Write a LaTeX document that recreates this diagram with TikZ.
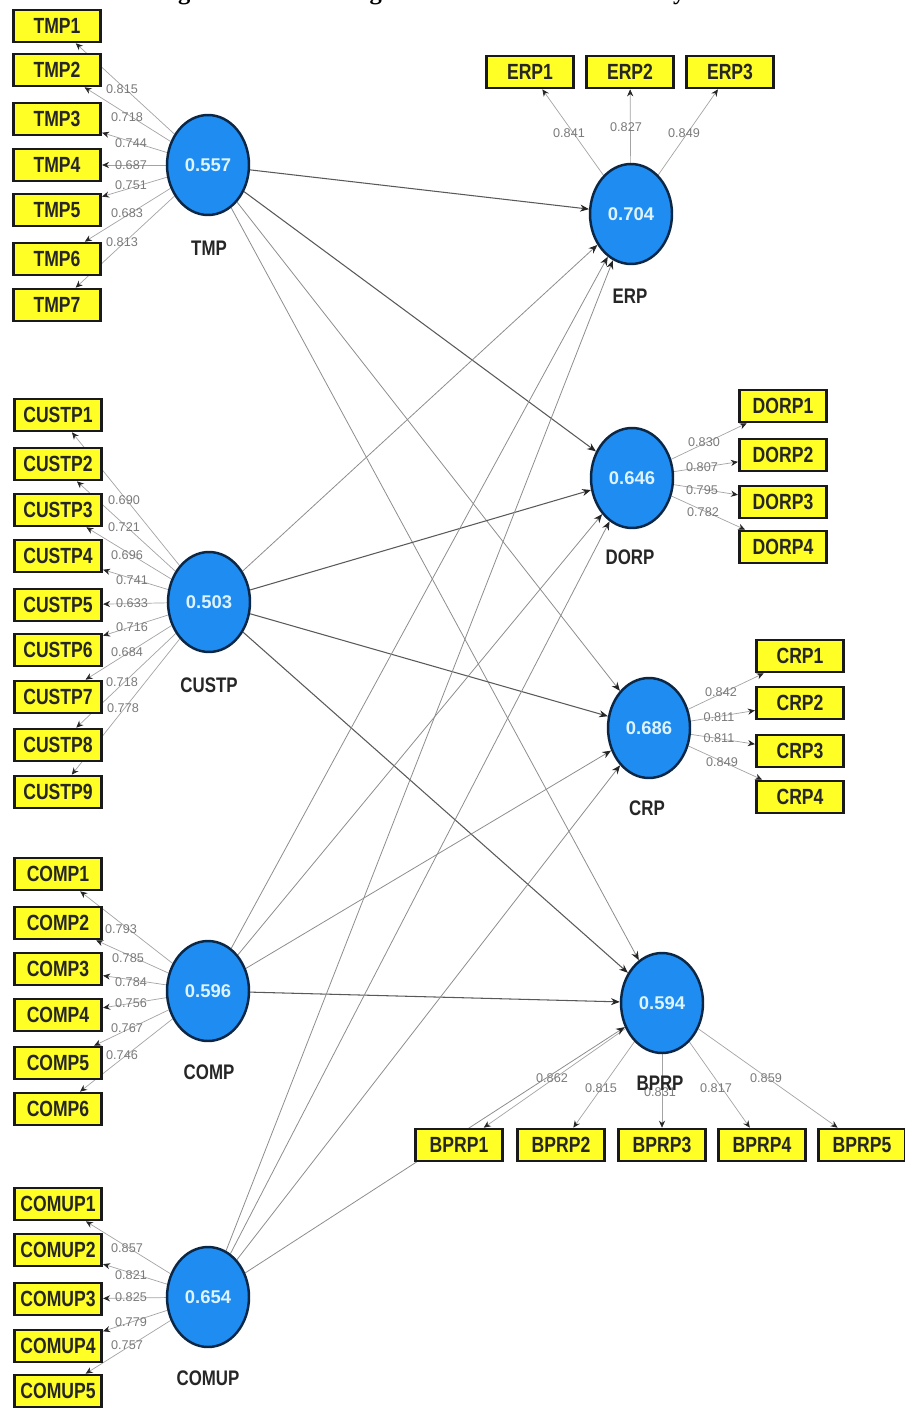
\documentclass[tikz,border=0pt]{standalone}
\usepackage{fontspec}
\setmainfont{Liberation Serif}
\newfontfamily\pathfont{Liberation Sans}
\newfontfamily\boxfont[FakeStretch=0.8]{Liberation Sans}
\usetikzlibrary{shapes.geometric,arrows.meta}
\pgfdeclarelayer{background}
\pgfsetlayers{background,main}
\definecolor{indyellow}{HTML}{FFFF26}
\definecolor{lvblue}{HTML}{1E8CF0}
\definecolor{lvborder}{HTML}{0B2745}
\definecolor{lvvalue}{HTML}{DDF3FF}
\definecolor{loadgray}{HTML}{7A7A7A}
\definecolor{linegray}{HTML}{A3A3A3}

\begin{document}
\begin{tikzpicture}[x=0.02cm,y=-0.02cm]
 \tikzset{indicator/.style={draw=black!90, fill=indyellow, line width=1.5pt,
      minimum width=1.75cm, minimum height=0.64cm, inner sep=0pt,
      font=\boxfont\bfseries\fontsize{12.5}{14}\selectfont, text=black!85},
   latent/.style={ellipse, draw=lvborder, fill=lvblue, line width=1.4pt,
      minimum width=1.64cm, minimum height=2cm, inner sep=0pt,
      font=\pathfont\bfseries\fontsize{10.5}{12}\selectfont, text=lvvalue},
   lvname/.style={font=\boxfont\bfseries\fontsize{12}{14}\selectfont, text=black!85},
   loading/.style={font=\pathfont\fontsize{7.2}{8}\selectfont, text=loadgray, inner sep=0pt},
   loadpath/.style={draw=linegray, line width=0.4pt,
      -{Stealth[length=4pt,width=3.5pt,color=black!85]}},
   structpath/.style={draw=black!45, line width=0.45pt,
      -{Stealth[length=5pt,width=4pt,color=black!85]}},
   structmain/.style={structpath, draw=black!65, line width=0.6pt}
 }
\useasboundingbox (0,0) rectangle (904,1409);

% caption, cut by the top edge
\node[anchor=base west, font=\bfseries\fontsize{14}{16}\selectfont] (title) at (150,0)
  {Figure 4.1: First Stage Measurement Model Analysis};

% latent variables
\node[latent] (tmp) at (208,165) {0.557};
\node[lvname] (tmpname) at (209,248) {TMP};
\node[latent] (custp) at (209,602) {0.503};
\node[lvname] (custpname) at (209,685) {CUSTP};
\node[latent] (comp) at (208,991) {0.596};
\node[lvname] (compname) at (209,1072) {COMP};
\node[latent] (comup) at (208,1297) {0.654};
\node[lvname] (comupname) at (208,1378) {COMUP};

\node[latent] (erp) at (631,214) {0.704};
\node[lvname] (erpname) at (630,296) {ERP};
\node[latent] (dorp) at (632,478) {0.646};
\node[lvname] (dorpname) at (630,557) {DORP};
\node[latent] (crp) at (649,728) {0.686};
\node[lvname] (crpname) at (647,808) {CRP};
\node[latent] (bprp) at (662,1003) {0.594};

% indicators
\foreach \i/\y in {1/26,2/70,3/119,4/165,5/210,6/259,7/305}
  \node[indicator] (tmp\i) at (57,\y) {TMP\i};
\foreach \i/\y in {1/415,2/464,3/510,4/556,5/605,6/650,7/697,8/745,9/792}
  \node[indicator] (custp\i) at (58,\y) {CUSTP\i};
\foreach \i/\y in {1/874,2/923,3/969,4/1015,5/1063,6/1109}
  \node[indicator] (comp\i) at (58,\y) {COMP\i};
\foreach \i/\y in {1/1204,2/1250,3/1299,4/1346,5/1391}
  \node[indicator] (comup\i) at (58,\y) {COMUP\i};
\foreach \i/\x in {1/530,2/630,3/730}
  \node[indicator] (erp\i) at (\x,72) {ERP\i};
\foreach \i/\y in {1/406,2/455,3/502,4/547}
  \node[indicator] (dorp\i) at (783,\y) {DORP\i};
\foreach \i/\y in {1/656,2/703,3/751,4/797}
  \node[indicator] (crp\i) at (800,\y) {CRP\i};
\foreach \i/\x in {1/459,2/561,3/662,4/762,5/862}
  \node[indicator] (bprp\i) at (\x,1145) {BPRP\i};

% outer loadings
\begin{pgfonlayer}{background}
\foreach \i/\v/\lx/\ly in {1/0.815/122/89,2/0.718/127/117,3/0.744/131/143,
    4/0.687/131/165,5/0.751/131/185,6/0.683/127/213,7/0.813/122/242}{
  \draw[loadpath] (tmp) -- (tmp\i);
  \node[loading] at (\lx,\ly) {\v};
}
\foreach \i/\v/\lx/\ly in {1/0.690/124/500,2/0.721/124/527,3/0.696/127/555,
    4/0.741/132/580,5/0.633/132/603,6/0.716/132/627,7/0.684/127/652,
    8/0.718/122/682,9/0.778/123/708}{
  \draw[loadpath] (custp) -- (custp\i);
  \node[loading] at (\lx,\ly) {\v};
}
\foreach \i/\v/\lx/\ly in {1/0.793/121/929,2/0.785/128/958,3/0.784/131/982,
    4/0.756/131/1003,5/0.767/127/1028,6/0.746/122/1055}{
  \draw[loadpath] (comp) -- (comp\i);
  \node[loading] at (\lx,\ly) {\v};
}
\foreach \i/\v/\lx/\ly in {1/0.857/127/1248,2/0.821/131/1275,3/0.825/131/1297,
    4/0.779/131/1322,5/0.757/127/1345}{
  \draw[loadpath] (comup) -- (comup\i);
  \node[loading] at (\lx,\ly) {\v};
}
\foreach \i/\v/\lx/\ly in {1/0.841/569/133,2/0.827/626/127,3/0.849/684/133}{
  \draw[loadpath] (erp) -- (erp\i);
  \node[loading] at (\lx,\ly) {\v};
}
\foreach \i/\v/\lx/\ly in {1/0.830/704/442,2/0.807/702/467,3/0.795/702/490,
    4/0.782/703/512}{
  \draw[loadpath] (dorp) -- (dorp\i);
  \node[loading] at (\lx,\ly) {\v};
}
\foreach \i/\v/\lx/\ly in {1/0.842/721/692,2/0.811/719/717,3/0.811/719/738,
    4/0.849/722/762}{
  \draw[loadpath] (crp) -- (crp\i);
  \node[loading] at (\lx,\ly) {\v};
}
\foreach \i/\v/\lx/\ly in {1/0.862/552/1078,2/0.815/601/1088,3/0.831/660/1092,
    4/0.817/716/1088,5/0.859/766/1078}{
  \draw[loadpath] (bprp) -- (bprp\i);
  \node[loading] at (\lx,\ly) {\v};
}

% structural paths
\foreach \src/\dst/\sty in {tmp/erp/structmain,tmp/dorp/structmain,tmp/crp/structpath,
    tmp/bprp/structpath,custp/erp/structpath,custp/dorp/structmain,
    custp/crp/structmain,custp/bprp/structmain,comp/erp/structpath,
    comp/dorp/structpath,comp/crp/structpath,comp/bprp/structmain,
    comup/erp/structpath,comup/dorp/structpath,comup/crp/structpath,
    comup/bprp/structpath}
  \draw[\sty] (\src) -- (\dst);
\end{pgfonlayer}

\node[lvname] (bprpname) at (660,1083) {BPRP};
\end{tikzpicture}
\end{document}
